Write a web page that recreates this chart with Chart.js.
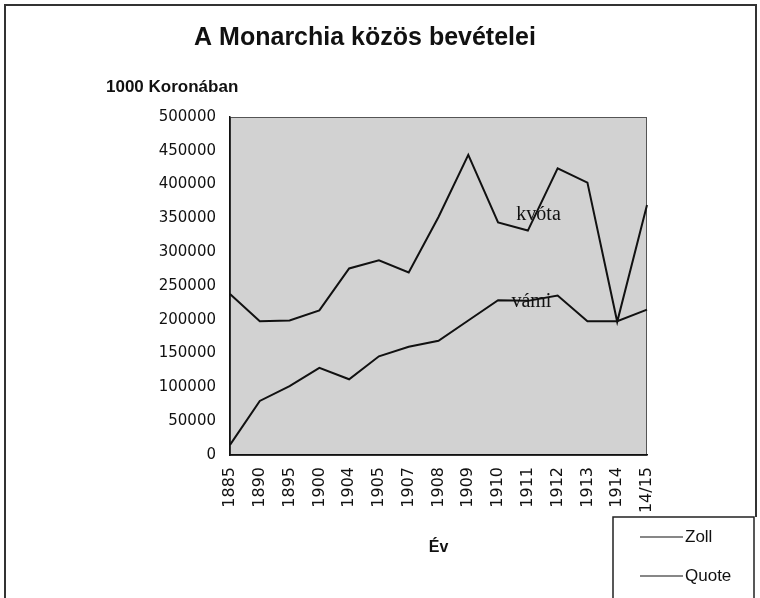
<!DOCTYPE html>
<html lang="hu">
<head>
    <meta charset="UTF-8">
    <title>A Monarchia közös bevételei</title>
    <script src="https://cdn.jsdelivr.net/npm/chart.js"></script>
    <style>
        html, body { margin: 0; padding: 0; background: #fff; }
        .wrap { width: 760px; height: 598px; position: relative; }
    </style>
</head>
<body>
    <div class="wrap"><canvas id="chart" width="760" height="598"></canvas></div>

    <script>
        // data (1000 Korona)
        const years = ['1885', '1890', '1895', '1900', '1904', '1905', '1907', '1908',
                       '1909', '1910', '1911', '1912', '1913', '1914', '14/15'];
        const zoll  = [15000, 80000, 102000, 129000, 112000, 146000, 160000, 169000,
                       199000, 229000, 228000, 236000, 198000, 198000, 215000];
        const quote = [238000, 198000, 199000, 214000, 276000, 288000, 270000, 352000,
                       444000, 344000, 332000, 424000, 403000, 197000, 370000];
        const yTicks = [0, 50000, 100000, 150000, 200000, 250000, 300000, 350000, 400000, 450000, 500000];

        const frameAndBg = {
            id: 'frameAndBg',
            beforeDraw(chart) {
                const ctx = chart.ctx, a = chart.chartArea;
                ctx.save();
                ctx.fillStyle = '#d2d2d2';
                ctx.fillRect(a.left, a.top, a.right - a.left, a.bottom - a.top);
                ctx.strokeStyle = '#555';
                ctx.lineWidth = 1;
                ctx.strokeRect(a.left + 0.5, a.top + 0.5, a.right - a.left - 1, a.bottom - a.top);
                // outer frame
                ctx.strokeStyle = '#333';
                ctx.lineWidth = 2;
                ctx.beginPath();
                ctx.moveTo(5, 598); ctx.lineTo(5, 5); ctx.lineTo(756, 5); ctx.lineTo(756, 517);
                ctx.stroke();
                ctx.restore();
            },
            afterDraw(chart) {
                const ctx = chart.ctx;
                const x = chart.scales.x, y = chart.scales.y;
                ctx.save();
                // unit label above the y axis
                ctx.fillStyle = '#111';
                ctx.font = 'bold 17px "Liberation Sans", Arial, sans-serif';
                ctx.textBaseline = 'middle';
                ctx.textAlign = 'left';
                ctx.fillText('1000 Koronában', 106, 87);
                // series names inside the plot
                ctx.font = '20px "Liberation Serif", "Times New Roman", serif';
                ctx.textAlign = 'center';
                ctx.fillText('kvóta', x.getPixelForValue(10.36), y.getPixelForValue(355000));
                ctx.fillText('vámi', x.getPixelForValue(10.12), y.getPixelForValue(227000));
                // legend box
                ctx.fillStyle = '#fff';
                ctx.fillRect(613, 517, 142, 81);
                ctx.strokeStyle = '#222';
                ctx.lineWidth = 1.5;
                ctx.beginPath();
                ctx.moveTo(613, 598); ctx.lineTo(613, 517); ctx.lineTo(754, 517); ctx.lineTo(754, 598);
                ctx.stroke();
                ctx.font = '17px "Liberation Sans Narrow", "Liberation Sans", Arial, sans-serif';
                ctx.textAlign = 'left';
                ctx.fillStyle = '#111';
                chart.data.datasets.forEach((ds, i) => {
                    const ly = 537 + i * 39;
                    ctx.strokeStyle = ds.borderColor;
                    ctx.lineWidth = 1.2;
                    ctx.beginPath();
                    ctx.moveTo(640, ly); ctx.lineTo(683, ly);
                    ctx.stroke();
                    ctx.fillText(ds.label, 685, ly);
                });
                ctx.restore();
            }
        };

        new Chart(document.getElementById('chart'), {
            type: 'line',
            data: {
                labels: years,
                datasets: [
                    { label: 'Zoll', data: zoll, borderColor: '#111', borderWidth: 2, pointRadius: 0, tension: 0, fill: false },
                    { label: 'Quote', data: quote, borderColor: '#111', borderWidth: 2, pointRadius: 0, tension: 0, fill: false }
                ]
            },
            options: {
                responsive: false,
                animation: false,
                layout: { padding: { left: 83, right: 113, top: 0, bottom: 0 } },
                plugins: {
                    legend: { display: false },
                    tooltip: { enabled: false },
                    title: {
                        display: true,
                        text: 'A Monarchia közös bevételei',
                        color: '#111',
                        font: { family: '"Liberation Sans", Arial, sans-serif', size: 25, weight: 'bold' },
                        padding: { top: 23, bottom: 64 }
                    }
                },
                scales: {
                    x: {
                        offset: false,
                        afterFit(s) { s.height = 143; },
                        grid: { display: false, drawTicks: true, tickLength: 5, tickColor: '#111' },
                        border: { color: '#111', width: 1.5 },
                        ticks: {
                            minRotation: 90, maxRotation: 90, autoSkip: false, padding: 7,
                            color: '#111',
                            font: { family: '"DejaVu Sans", sans-serif', size: 16 }
                        },
                        title: {
                            display: true, text: 'Év', color: '#111',
                            font: { family: '"Liberation Sans", Arial, sans-serif', size: 16, weight: 'bold' },
                            padding: { top: 4, bottom: 41 }
                        }
                    },
                    y: {
                        min: 0, max: 500000,
                        afterFit(s) { s.width = 147; },
                        afterBuildTicks(s) { s.ticks = yTicks.map(v => ({ value: v })); },
                        grid: { display: false, drawTicks: true, tickLength: 6, tickColor: '#111' },
                        border: { color: '#111', width: 1.5 },
                        ticks: {
                            padding: 8, color: '#111',
                            font: { family: '"DejaVu Sans", sans-serif', size: 15 },
                            callback: v => String(v)
                        }
                    }
                }
            },
            plugins: [frameAndBg]
        });
    </script>
</body>
</html>
